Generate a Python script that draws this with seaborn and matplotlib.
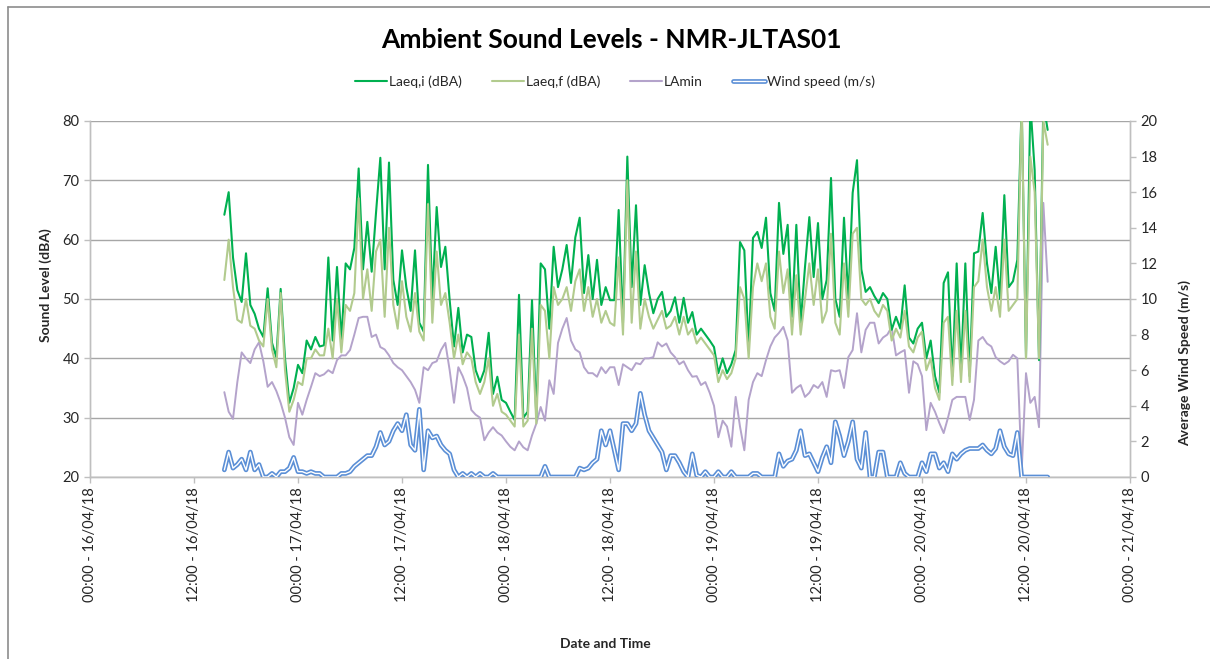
import numpy as np
import pandas as pd
import matplotlib
matplotlib.use("Agg")
import matplotlib.pyplot as plt
import matplotlib.dates as mdates
from matplotlib.lines import Line2D
from matplotlib.legend_handler import HandlerTuple
import seaborn as sns

# ---- data: 30-minute samples starting 16/04/18 15:30 ----
start_time = "2018-04-16 15:30"

laeq_i = [
    64.2, 68, 57, 51.5, 49.5, 57.7, 49, 47.5, 45, 43.6, 51.8, 42.6,
    40.2, 51.7, 40, 32.5, 35, 38.9, 37.5, 43, 41.5, 43.6, 42, 42.2,
    57, 43, 55.4, 43, 56, 55, 58.6, 72, 55, 63, 54.6, 64.5,
    73.8, 55, 73, 53.2, 49, 58.2, 52, 48, 58.2, 46, 44.5, 72.6,
    50, 65.5, 55.4, 58.8, 49.8, 42, 48.5, 41, 44, 43.6, 38, 36,
    38, 44.3, 34, 36.9, 33, 32.5, 31, 29.6, 50.7, 30, 31, 49.8,
    30, 56, 55, 45, 58.8, 52, 55, 59.1, 52.7, 60.4, 63.7, 51,
    57.4, 50, 56.6, 49, 52, 49.8, 49.8, 65, 46, 74, 52, 65.8,
    49, 55.7, 51, 47.6, 50, 51.2, 47, 48, 50.3, 46, 50.2, 46,
    47.8, 44, 45, 44, 43, 41.9, 37.5, 40, 37.5, 39, 41.4, 59.6,
    58.2, 41.4, 60.3, 61.3, 58.6, 63.7, 51, 48, 66.2, 57.6, 62.5, 47,
    62.5, 46, 55.4, 63.8, 53.7, 62.8, 50, 53.2, 70.4, 50, 47, 63.7,
    50, 67.9, 73.4, 55, 51.2, 52, 50.5, 49.3, 51, 50, 44.8, 47,
    45, 52.3, 43.5, 42.5, 45, 46, 40, 43, 37, 34.2, 52.7, 54.5,
    37, 56, 38, 56, 37, 57.7, 58, 64.5, 56, 51, 58.8, 50,
    67.5, 52, 53, 56.6, 83, 40.2, 83, 71.7, 39.7, 83, 78.5,
]

laeq_f = [
    53.2, 60, 52, 46.5, 46, 50, 45.5, 45, 43, 42, 50, 41.5,
    38.5, 51, 38, 31, 33, 36, 35.5, 40, 40, 41.5, 40.5, 40.5,
    45, 40, 50, 41, 49, 48, 51, 67, 50, 55, 48, 58,
    60, 47, 62, 49, 45, 53, 47, 44.5, 51, 44.5, 43, 66,
    46, 58, 49, 51, 46, 40, 44, 39, 41, 40, 36, 34,
    36, 40, 32, 34, 31, 30.5, 29.5, 28.5, 44, 28.5, 29.5, 45,
    29, 49, 48, 40, 52, 49, 50, 52, 48, 53, 55, 48,
    52, 47, 50, 46, 48, 46, 45.5, 57, 44, 70, 46, 58,
    45, 50, 47, 45, 46.5, 48, 45, 45.5, 47, 44, 47, 44,
    45, 42.5, 43.5, 42.5, 41.5, 40.5, 36, 38, 36.5, 37.5, 40, 52,
    50, 40, 52, 56, 53, 56, 47, 45, 58, 51, 55, 44,
    54, 44, 50, 56, 49, 55, 46, 48, 61, 46, 44, 56,
    47, 61, 62, 50, 49, 50, 48, 47, 49, 48, 43, 45,
    43.5, 48, 42, 41, 43.5, 44.5, 38, 40, 35, 33, 46, 47,
    35.5, 48, 36, 48, 36, 52, 53, 60, 52, 48, 52, 47,
    60, 48, 49, 50, 83, 40, 74, 68, 40, 80, 76,
]

lamin = [
    34.3, 31, 29.8, 36, 41, 40, 39.2, 41.5, 42.7, 39.5, 35.2, 36,
    34.5, 32.5, 30, 26.7, 25.4, 32.5, 30.5, 33, 35.2, 37.5, 37, 37.3,
    38, 37.5, 39.7, 40.5, 40.5, 41.4, 44, 46.8, 47, 47, 43.6, 44,
    41.9, 41.5, 40.5, 39.2, 38.5, 38, 37, 36, 34.7, 32.5, 38.5, 38,
    39.2, 39.5, 41.4, 42.6, 38, 32.5, 38.5, 37, 35, 31.3, 30.5, 30,
    26.2, 27.5, 28.4, 27.5, 27, 26, 25.1, 24.5, 26, 25, 24.5, 27,
    29, 31.8, 29.5, 36.3, 34, 42.6, 45, 46.8, 43, 41.5, 41, 38.5,
    37.5, 37.5, 36.9, 38.5, 37.5, 38.5, 38.5, 35.5, 39, 38.5, 38, 39.2,
    39, 40, 40, 40.2, 42.7, 42, 42.5, 41, 40.2, 39, 39.5, 38,
    36.9, 37, 35.5, 36, 34.2, 32, 26.7, 29.5, 28.5, 25.1, 33.5, 28.5,
    24.5, 33, 36, 37.5, 37, 39.7, 42, 43.5, 44.3, 45.3, 43, 34.2,
    35, 35.5, 33.5, 34.2, 35.5, 35, 36, 33.5, 38, 37.8, 38, 35,
    40.2, 41.4, 47.6, 41, 44.8, 46, 46, 42.5, 43.5, 44, 45.3, 40.5,
    41, 41.4, 34.2, 39.5, 39, 37, 27.9, 32.5, 31, 29.1, 27.4, 30,
    33, 33.5, 33.5, 33.5, 29.6, 33, 43, 43.6, 42.5, 42, 40.2, 39.5,
    39, 39.5, 40.6, 40, 21, 37.5, 32.5, 33.5, 28.4, 66.2, 52.9,
]

wind = [
    0.4, 1.4, 0.5, 0.7, 1.0, 0.4, 1.4, 0.4, 0.7, 0, 0, 0.2,
    0, 0.3, 0.3, 0.5, 1.1, 0.3, 0.3, 0.2, 0.3, 0.2, 0.2, 0,
    0, 0, 0, 0.2, 0.2, 0.3, 0.6, 0.8, 1.0, 1.2, 1.2, 1.7,
    2.5, 1.8, 2.0, 2.6, 3.0, 2.6, 3.5, 1.8, 1.5, 3.8, 0.4, 2.6,
    2.2, 2.3, 1.8, 1.5, 1.3, 0.4, 0, 0.2, 0, 0.2, 0, 0.2,
    0, 0, 0.2, 0, 0, 0, 0, 0, 0, 0, 0, 0,
    0, 0, 0.6, 0, 0, 0, 0, 0, 0, 0, 0.5, 0.4,
    0.5, 0.8, 1.0, 2.6, 1.8, 2.6, 1.5, 0.4, 3.0, 3.0, 2.6, 3.0,
    4.7, 3.5, 2.6, 2.2, 1.8, 1.4, 0.4, 1.2, 1.2, 0.8, 0.3, 0,
    1.3, 0.1, 0, 0.3, 0, 0, 0.3, 0, 0, 0.3, 0, 0,
    0, 0, 0.2, 0.2, 0, 0, 0, 0, 1.3, 0.6, 0.9, 1.0,
    1.5, 2.6, 1.2, 1.3, 0.8, 0.3, 1.1, 1.7, 0.8, 3.1, 2.3, 1.2,
    2.0, 3.1, 1.0, 0.5, 2.5, 0, 0, 1.4, 1.4, 0, 0, 0,
    0.8, 0.2, 0, 0, 0, 0.8, 0.3, 1.3, 1.3, 0.5, 0.8, 0.3,
    1.3, 1.0, 1.3, 1.5, 1.6, 1.6, 1.6, 1.8, 1.5, 1.3, 1.6, 2.6,
    1.7, 1.3, 1.2, 2.5, 0, 0, 0, 0, 0, 0, 0,
]

series_labels = ["Laeq,i (dBA)", "Laeq,f (dBA)", "LAmin", "Wind speed (m/s)"]
title = "Ambient Sound Levels - NMR-JLTAS01"

times = pd.date_range(start_time, periods=len(laeq_i), freq="30min")
df = pd.DataFrame({"time": times, "laeq_i": laeq_i, "laeq_f": laeq_f,
                   "lamin": lamin, "wind": wind})

# ---- styling ----
sns.set_style("white")
plt.rcParams["font.family"] = ["Lato", "DejaVu Sans"]
c_i = "#00B050"
c_f = "#B2CB8E"
c_min = "#B4A3CB"
c_wind = "#5B8FD6"
txt = "#262626"

fig = plt.figure(figsize=(12.10, 6.59), dpi=100)
ax = fig.add_axes([90 / 1210, 1 - 477 / 659, (1130 - 90) / 1210, (477 - 121) / 659])
ax2 = ax.twinx()

sns.lineplot(data=df, x="time", y="lamin", ax=ax, color=c_min, lw=1.4, zorder=3)
sns.lineplot(data=df, x="time", y="laeq_i", ax=ax, color=c_i, lw=1.5, zorder=4)
sns.lineplot(data=df, x="time", y="laeq_f", ax=ax, color=c_f, lw=1.5, zorder=5)
sns.lineplot(data=df, x="time", y="wind", ax=ax2, color=c_wind, lw=3.4, zorder=3)
sns.lineplot(data=df, x="time", y="wind", ax=ax2, color="white", lw=1.0, zorder=4)

ax.set_ylim(20, 80)
ax.set_yticks(np.arange(20, 81, 10))
ax2.set_ylim(0, 20)
ax2.set_yticks(np.arange(0, 21, 2))
ax.set_xlim(pd.Timestamp("2018-04-16 00:00"), pd.Timestamp("2018-04-21 00:00"))
ax.xaxis.set_major_locator(mdates.HourLocator(byhour=[0, 12]))
ax.xaxis.set_major_formatter(mdates.DateFormatter("%H:%M - %d/%m/%y"))
for lab in ax.get_xticklabels():
    lab.set_rotation(90)

ax.grid(axis="y", color="#A6A6A6", lw=1.0)
ax.grid(axis="x", visible=False)
ax.set_axisbelow(True)

for a in (ax, ax2):
    for s in ("left", "bottom", "right"):
        a.spines[s].set_color("#BFBFBF")
        a.spines[s].set_linewidth(1.0)
    a.spines["top"].set_visible(False)
    a.set_xlabel("")
    a.set_ylabel("")

ax.tick_params(axis="y", colors="#BFBFBF", labelcolor=txt, labelsize=10.5,
               length=4, width=1, direction="out", left=True)
ax.tick_params(axis="x", colors="#BFBFBF", labelcolor=txt, labelsize=10.5,
               length=4, width=1, direction="out", bottom=True)
ax2.tick_params(axis="y", colors="#BFBFBF", labelcolor=txt, labelsize=10.5,
                length=4, width=1, direction="out", right=True)

fig.text(0.505, 1 - 40 / 659, title, ha="center", va="center",
         fontsize=19, fontweight="bold", color="black")
fig.text(0.5, 1 - 644 / 659, "Date and Time", ha="center", va="center",
         fontsize=10, fontweight="bold", color=txt)
fig.text(46 / 1210, 1 - 285 / 659, "Sound Level (dBA)", ha="center", va="center",
         rotation=90, fontsize=10, fontweight="bold", color=txt)
fig.text(1185 / 1210, 1 - 363 / 659, "Average Wind Speed (m/s)", ha="center",
         va="center", rotation=90, fontsize=10, fontweight="bold", color=txt)

h1 = Line2D([], [], color=c_i, lw=1.5)
h2 = Line2D([], [], color=c_f, lw=1.5)
h3 = Line2D([], [], color=c_min, lw=1.5)
h4a = Line2D([], [], color=c_wind, lw=3.4)
h4b = Line2D([], [], color="white", lw=1.0)
fig.legend([h1, h2, h3, (h4a, h4b)], series_labels, ncol=4,
           loc="center", bbox_to_anchor=(615 / 1210, 1 - 82 / 659),
           frameon=False, fontsize=10, handlelength=2.3, handletextpad=0.1,
           columnspacing=2.2, labelcolor=txt,
           handler_map={tuple: HandlerTuple(ndivide=1)})

# chart-area outline (top and left edges visible)
fig.add_artist(Line2D([8 / 1210, 1], [1 - 7 / 659, 1 - 7 / 659],
                      transform=fig.transFigure, color="#8C8C8C", lw=1.2))
fig.add_artist(Line2D([8 / 1210, 8 / 1210], [0, 1 - 7 / 659],
                      transform=fig.transFigure, color="#8C8C8C", lw=1.2))

fig.savefig("out.png", dpi=100)
